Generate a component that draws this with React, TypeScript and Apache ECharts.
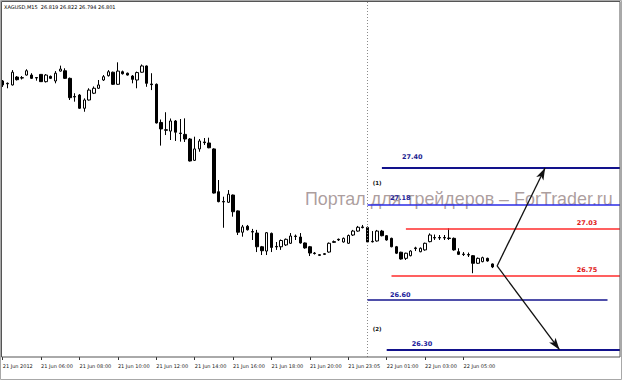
import React, { useEffect, useRef } from 'react';
import * as echarts from 'echarts';

const symbolName = 'XAGUSD,M15';
const tickLabels = [
  '21 Jun 2012', '21 Jun 06:00', '21 Jun 08:00', '21 Jun 10:00', '21 Jun 12:00',
  '21 Jun 14:00', '21 Jun 16:00', '21 Jun 18:00', '21 Jun 20:00', '21 Jun 23:05',
  '22 Jun 01:00', '22 Jun 03:00', '22 Jun 05:00',
];
const barsPerTick = 8;
const slotCount = 129; // bars plus the empty shift on the right

const opens = [
  27.926, 27.912, 27.902, 27.950, 27.946, 27.962, 27.962, 27.947, 27.966, 27.922,
  27.954, 27.926, 27.986, 27.988, 27.942, 27.832, 27.841, 27.761, 27.811, 27.852,
  27.882, 27.932, 27.958, 27.979, 27.906, 27.982, 27.973, 27.956, 27.932, 27.979,
  28.017, 27.908, 27.906, 27.675, 27.631, 27.623, 27.684, 27.611, 27.603, 27.575,
  27.446, 27.515, 27.557, 27.551, 27.515, 27.256, 27.197, 27.192, 27.236, 27.140,
  27.011, 27.047, 27.015, 27.006, 26.923, 26.897, 27.004, 26.925, 26.923, 26.934,
  26.944, 26.988, 26.982, 26.946, 26.923, 26.885, 26.875, 26.881, 26.891, 26.954,
  26.968, 26.952, 26.944, 26.994, 27.018, 27.043, 27.040, 26.956, 26.958, 27.018,
  26.990, 26.974, 26.923, 26.890, 26.853, 26.869, 26.916, 26.893, 26.904, 26.954,
  26.979, 26.979, 26.979, 26.976, 26.974, 26.893, 26.879, 26.876, 26.869, 26.823,
  26.833, 26.853, 26.819,
];
const closes = [
  27.902, 27.909, 27.979, 27.934, 27.944, 27.988, 27.942, 27.944, 27.922, 27.962,
  27.942, 27.973, 27.998, 27.942, 27.825, 27.829, 27.761, 27.811, 27.871, 27.882,
  27.902, 27.952, 27.982, 27.906, 27.986, 27.970, 27.962, 27.936, 27.977, 28.017,
  27.912, 27.904, 27.672, 27.636, 27.628, 27.684, 27.616, 27.608, 27.575, 27.442,
  27.515, 27.563, 27.553, 27.522, 27.248, 27.196, 27.194, 27.241, 27.135, 27.011,
  27.043, 27.026, 27.012, 26.923, 26.899, 27.008, 26.919, 26.922, 26.961, 26.968,
  26.988, 26.985, 26.946, 26.916, 26.885, 26.882, 26.871, 26.877, 26.944, 26.950,
  26.964, 26.974, 26.991, 27.018, 27.041, 27.039, 26.952, 26.953, 27.018, 26.990,
  26.964, 26.923, 26.884, 26.849, 26.884, 26.897, 26.912, 26.914, 26.944, 26.994,
  26.976, 26.976, 26.976, 26.973, 26.904, 26.877, 26.876, 26.873, 26.823, 26.853,
  26.857, 26.837, 26.801,
];
const lows = [
  27.890, 27.882, 27.899, 27.929, 27.935, 27.959, 27.938, 27.928, 27.920, 27.917,
  27.938, 27.912, 27.983, 27.938, 27.811, 27.801, 27.757, 27.740, 27.808, 27.847,
  27.878, 27.926, 27.953, 27.902, 27.902, 27.965, 27.959, 27.912, 27.882, 27.976,
  27.891, 27.871, 27.669, 27.535, 27.599, 27.569, 27.563, 27.559, 27.557, 27.439,
  27.442, 27.498, 27.539, 27.519, 27.245, 27.192, 27.038, 27.188, 27.105, 26.994,
  26.984, 27.021, 26.964, 26.891, 26.873, 26.873, 26.891, 26.904, 26.904, 26.928,
  26.940, 26.964, 26.942, 26.911, 26.867, 26.876, 26.867, 26.873, 26.887, 26.946,
  26.958, 26.948, 26.940, 26.988, 27.014, 27.034, 26.948, 26.949, 26.954, 26.986,
  26.960, 26.920, 26.879, 26.845, 26.843, 26.865, 26.897, 26.890, 26.899, 26.950,
  26.964, 26.964, 26.964, 26.964, 26.899, 26.873, 26.867, 26.861, 26.763, 26.819,
  26.829, 26.833, 26.794,
];
const highs = [
  27.932, 27.917, 27.992, 27.956, 27.956, 27.997, 27.973, 27.950, 27.968, 27.968,
  27.959, 27.986, 28.019, 28.003, 27.947, 27.852, 27.847, 27.821, 27.882, 27.893,
  27.932, 27.962, 27.992, 27.983, 28.039, 27.989, 27.977, 27.962, 27.983, 28.026,
  28.020, 27.973, 27.911, 27.693, 27.737, 27.699, 27.690, 27.696, 27.700, 27.581,
  27.589, 27.575, 27.581, 27.583, 27.519, 27.327, 27.226, 27.266, 27.239, 27.143,
  27.055, 27.055, 27.031, 27.025, 26.928, 27.012, 27.009, 26.952, 26.967, 26.973,
  27.006, 26.997, 27.006, 26.949, 26.928, 26.891, 26.879, 26.885, 26.949, 26.961,
  26.973, 26.979, 26.997, 27.025, 27.049, 27.055, 27.046, 27.018, 27.025, 27.025,
  26.994, 26.978, 26.928, 26.893, 26.887, 26.902, 26.923, 26.919, 26.948, 27.004,
  26.997, 26.994, 26.994, 27.035, 26.979, 26.914, 26.891, 26.888, 26.873, 26.858,
  26.863, 26.857, 26.822,
];

// Annotation levels (price) and the bar slots they span; null end = to the right edge
const levelValues = [27.40, 27.18, 27.03, 26.75, 26.60, 26.30];
const levelStart = [79, 76, 84, 81, 76, 80];
const levelEnd: (number | null)[] = [null, null, null, null, 126, null];
const separatorIndex = 76;
const arrowFrom = [103, 26.807];
const arrowTargets = [[113, 27.40], [116, 26.30]];
const scenarioNames = ['(1)', '(2)'];
const scenarioPoints = [[78, 27.309], [78, 26.423]];
const watermark = 'Портал для трейдеров – ForTrader.ru';

const yMin = 26.256;
const yMax = 28.404;

const levelStyles = [
  { line: '#12128c', width: 2, text: '#1c1c90', pos: 'insideStartTop', dist: [20, 7] },
  { line: '#2b2be6', width: 1.5, text: '#1c1c9c', pos: 'insideStartTop', dist: [22.5, 2.7] },
  { line: '#ff2b2b', width: 1.5, text: '#e01a1a', pos: 'insideEndTop', dist: [22.7, 1.6] },
  { line: '#ff2b2b', width: 1.5, text: '#e01a1a', pos: 'insideEndTop', dist: [22.7, 1.3] },
  { line: '#14148e', width: 1.5, text: '#1c1c9c', pos: 'insideStartTop', dist: [22.5, 1.3] },
  { line: '#12128c', width: 2, text: '#1c1c9c', pos: 'insideStartTop', dist: [25, 1.6] },
];

export default function App() {
  const ref = useRef<HTMLDivElement>(null);

  useEffect(() => {
    if (!ref.current) return;
    const chart = echarts.init(ref.current, undefined, { renderer: 'svg' });

    const categories = Array.from({ length: slotCount }, (_, i) =>
      i % barsPerTick === 0 && i / barsPerTick < tickLabels.length ? tickLabels[i / barsPerTick] : 's' + i
    );
    const isTick = (i: number) => i % barsPerTick === 0 && i / barsPerTick < tickLabels.length;
    const candles = opens.map((o, i) => [o, closes[i], lows[i], highs[i]]);
    const last = opens.length - 1;
    const header = `${symbolName}  ${opens[last].toFixed(3)} ${highs[last].toFixed(3)} ${lows[last].toFixed(3)} ${closes[last].toFixed(3)}`;

    const levelLines = levelValues.map((v, k) => {
      const s = levelStyles[k];
      const end: any = levelEnd[k] == null ? { coord: [slotCount - 1, v], x: 620 } : { coord: [levelEnd[k], v] };
      return [
        {
          coord: [levelStart[k], v],
          symbol: 'none',
          lineStyle: { color: s.line, width: s.width, type: 'solid' },
          label: {
            show: true,
            formatter: v.toFixed(2),
            position: s.pos,
            distance: s.dist,
            color: s.text,
            fontFamily: 'DejaVu Sans',
            fontWeight: 'bold',
            fontSize: 6.5,
            lineHeight: 8,
          },
        },
        { ...end, symbol: 'none' },
      ];
    });

    const arrowLines = arrowTargets.map((t) => [
      {
        coord: arrowFrom,
        symbol: 'none',
        lineStyle: { color: '#111', width: 1.3, type: 'solid' },
        label: { show: false },
      },
      { coord: t, symbol: 'arrow', symbolSize: [6, 12] },
    ]);

    const option: any = {
      animation: false,
      backgroundColor: '#ffffff',
      grid: { left: 0.3, top: 2, width: 619.2, height: 355, outerBoundsMode: 'none', containLabel: false },
      xAxis: {
        type: 'category',
        data: categories,
        boundaryGap: true,
        axisLine: { show: false },
        axisTick: {
          show: true,
          alignWithLabel: true,
          interval: (i: number) => isTick(i),
          length: 3,
          lineStyle: { color: '#333', width: 1 },
        },
        axisLabel: {
          show: true,
          interval: (i: number) => isTick(i),
          align: 'left',
          margin: 6,
          fontFamily: 'DejaVu Sans',
          fontSize: 5,
          color: '#222',
          formatter: (val: string) => val,
        },
        splitLine: { show: false },
      },
      yAxis: {
        type: 'value',
        min: yMin,
        max: yMax,
        show: false,
        splitLine: { show: false },
      },
      graphic: [
        {
          type: 'text',
          left: 305,
          top: 190,
          z: 0,
          silent: true,
          style: {
            text: watermark,
            fontFamily: 'Liberation Sans',
            fontSize: 17.9,
            fill: 'rgba(150,132,132,0.78)',
          },
        },
        {
          type: 'text',
          left: 4,
          top: 4,
          z: 10,
          style: { text: header, fontFamily: 'DejaVu Sans', fontSize: 5, fill: '#000' },
        },
        {
          type: 'rect',
          z: 10,
          silent: true,
          shape: { x: 1.5, y: 1.5, width: 618.5, height: 355.5 },
          style: { fill: 'none', stroke: '#555', lineWidth: 1 },
        },
        {
          type: 'rect',
          z: 10,
          silent: true,
          shape: { x: 0.5, y: 0.5, width: 621, height: 379 },
          style: { fill: 'none', stroke: '#a8a8a8', lineWidth: 1 },
        },
      ],
      series: [
        {
          type: 'candlestick',
          data: candles,
          barWidth: 3,
          itemStyle: {
            color: '#ffffff',
            color0: '#000000',
            borderColor: '#000000',
            borderColor0: '#000000',
            borderColorDoji: '#000000',
            borderWidth: 1,
          },
          markLine: {
            silent: true,
            animation: false,
            symbol: ['none', 'none'],
            data: [
              {
                xAxis: separatorIndex,
                symbol: 'none',
                lineStyle: { color: '#8a8a8a', width: 1, type: [1, 2] },
                label: { show: false },
              },
              ...levelLines,
              ...arrowLines,
            ],
          },
          markPoint: {
            silent: true,
            animation: false,
            symbol: 'rect',
            symbolSize: 1,
            itemStyle: { color: 'transparent' },
            label: {
              show: true,
              position: 'inside',
              formatter: (p: any) => p.name,
              fontFamily: 'DejaVu Sans',
              fontWeight: 'bold',
              fontSize: 5.5,
              color: '#111',
            },
            data: scenarioPoints.map((c, k) => ({ name: scenarioNames[k], coord: c })),
          },
        },
      ],
    };

    chart.setOption(option);
    return () => chart.dispose();
  }, []);

  return (
    <div
      ref={ref}
      style={{ position: 'fixed', left: 0, top: 0, width: 622, height: 380, background: '#fff' }}
    />
  );
}
